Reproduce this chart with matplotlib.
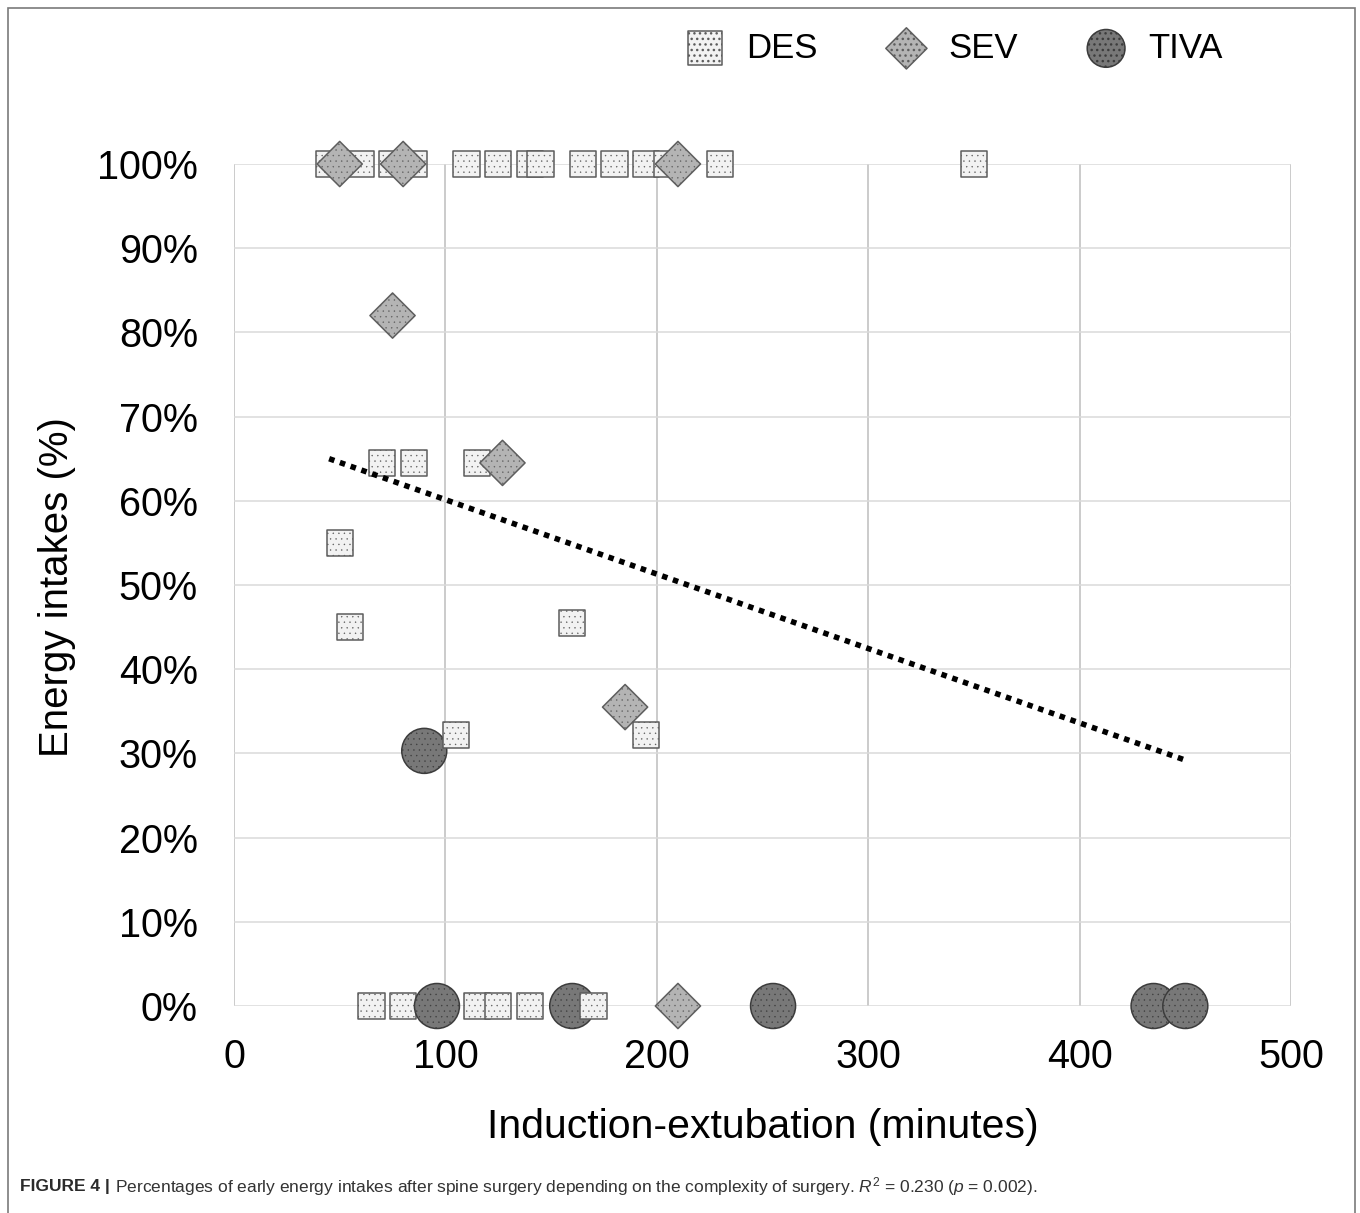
import matplotlib
matplotlib.use("Agg")
import matplotlib.pyplot as plt
from matplotlib.ticker import FixedLocator, FuncFormatter
from matplotlib.patches import Rectangle

plt.rcParams['font.family'] = ['Liberation Sans', 'DejaVu Sans']
plt.rcParams['mathtext.fontset'] = 'custom'
plt.rcParams['mathtext.rm'] = 'Liberation Sans'
plt.rcParams['mathtext.it'] = 'Liberation Sans:italic'

# ---- data -------------------------------------------------------------
des_x = [45, 60, 75, 85, 110, 125, 140, 145, 165, 180, 195, 205, 230, 350,
         70, 85, 115, 50, 55, 160, 105, 195,
         65, 80, 115, 125, 140, 170]
des_y = [100, 100, 100, 100, 100, 100, 100, 100, 100, 100, 100, 100, 100, 100,
         64.5, 64.5, 64.5, 55, 45, 45.5, 32.2, 32.2,
         0, 0, 0, 0, 0, 0]

sev_x = [50, 80, 210, 75, 127, 185, 210]
sev_y = [100, 100, 100, 82, 64.5, 35.5, 0]

tiva_x = [90, 96, 160, 255, 435, 450]
tiva_y = [30.3, 0, 0, 0, 0, 0]

trend_x = [45, 450]
trend_y = [65.0, 29.2]

x_ticks = [0, 100, 200, 300, 400, 500]
y_ticks = [0, 10, 20, 30, 40, 50, 60, 70, 80, 90, 100]

series_names = ["DES", "SEV", "TIVA"]

# ---- styles -----------------------------------------------------------
styles = {
    "DES":  dict(marker="s", s=360, face="#f2f2f2", edge="#5c5c5c", dots="#a0a0a0"),
    "SEV":  dict(marker="D", s=530, face="#b4b4b4", edge="#5e5e5e", dots="#d0d0d0"),
    "TIVA": dict(marker="o", s=1050, face="#787878", edge="#3c3c3c", dots="#9c9c9c"),
}

W, H = 1360, 1213
fig = plt.figure(figsize=(W / 100, H / 100), dpi=100)
ax = fig.add_axes([234 / W, 1 - 1006 / H, 1057 / W, 842 / H])
ax.set_xlim(0, 500)
ax.set_ylim(0, 100)

for sp in ax.spines.values():
    sp.set_visible(False)

ax.xaxis.set_major_locator(FixedLocator(x_ticks))
ax.yaxis.set_major_locator(FixedLocator(y_ticks))
ax.yaxis.set_major_formatter(FuncFormatter(lambda v, p: f"{v:.0f}%"))
ax.tick_params(axis="both", length=0, labelsize=28.5, colors="black")
ax.tick_params(axis="y", pad=26)
ax.tick_params(axis="x", pad=23)

ax.grid(axis="y", color="#dadada", linewidth=1.1, zorder=0)
ax.grid(axis="x", color="#bdbdbd", linewidth=1.1, zorder=0)
ax.set_axisbelow(True)


def dotted_scatter(x, y, name, z):
    st = styles[name]
    with plt.rc_context({"hatch.color": st["dots"], "hatch.linewidth": 0.25}):
        coll = ax.scatter(x, y, marker=st["marker"], s=st["s"],
                          facecolor=st["face"], edgecolor=st["edge"], linewidth=1.1,
                          hatch="...", clip_on=False, zorder=z, label=name)
    return coll


# draw order: top-row DES first, then top-row SEV, then the rest left to right
points = []
for x, y in zip(des_x, des_y):
    points.append(((0 if y == 100 else 2), x, y, "DES"))
for x, y in zip(sev_x, sev_y):
    points.append(((1 if y == 100 else 2), x, y, "SEV"))
for x, y in zip(tiva_x, tiva_y):
    points.append((2, x, y, "TIVA"))
points.sort(key=lambda p: (p[0], p[1]))

for i, (_, x, y, name) in enumerate(points):
    dotted_scatter([x], [y], name, 3 + i * 0.01)

# linear trend line
ax.plot(trend_x, trend_y, color="black", linewidth=4.0, linestyle=(0, (1, 1.05)),
        dash_capstyle="butt", zorder=10, clip_on=False)

# legend with proxy markers
proxies = []
legend_sizes = {"DES": 600, "SEV": 440, "TIVA": 740}
for name in series_names:
    st = styles[name]
    with plt.rc_context({"hatch.color": st["dots"], "hatch.linewidth": 0.25}):
        proxies.append(ax.scatter([], [], marker=st["marker"], s=legend_sizes[name],
                                  facecolor=st["face"], edgecolor=st["edge"],
                                  linewidth=1.1, hatch="...", label=name))
fig.legend(handles=proxies, labels=series_names, loc="center",
           bbox_to_anchor=(953 / W, 1 - 48 / H), ncol=3, frameon=False,
           fontsize=25, handlelength=1.2, handletextpad=0.6, columnspacing=1.95,
           borderpad=0.2, scatterpoints=1)

# axis titles
fig.text(57 / W, 1 - 587.5 / H, "Energy intakes (%)", rotation=90,
         ha="center", va="center", fontsize=29)
fig.text(762.5 / W, 1 - 1127 / H, "Induction-extubation (minutes)",
         ha="center", va="center", fontsize=29.5)

# figure frame (open at the bottom)
fig.patches.append(Rectangle((8 / W, -0.05), (1355 - 8) / W, 1.05 - 8 / H,
                             transform=fig.transFigure, fill=False,
                             edgecolor="#7a7a7a", linewidth=1.2))

# caption
cap_fam = ["Liberation Sans Narrow", "Liberation Sans", "DejaVu Sans"]
t1 = fig.text(20 / W, 1 - 1187 / H, "FIGURE 4 |", fontsize=12.5, fontweight="bold",
              color="#2b2b2b", ha="left", va="center", family=cap_fam)
fig.canvas.draw()
bb = t1.get_window_extent()
fig.text((bb.x1 + 5) / W, 1 - 1187 / H,
         r"Percentages of early energy intakes after spine surgery depending on the "
         r"complexity of surgery. $R^2$ = 0.230 ($p$ = 0.002).",
         fontsize=12.5, color="#333333", ha="left", va="center", family=cap_fam)

fig.savefig("out.png", dpi=100)
